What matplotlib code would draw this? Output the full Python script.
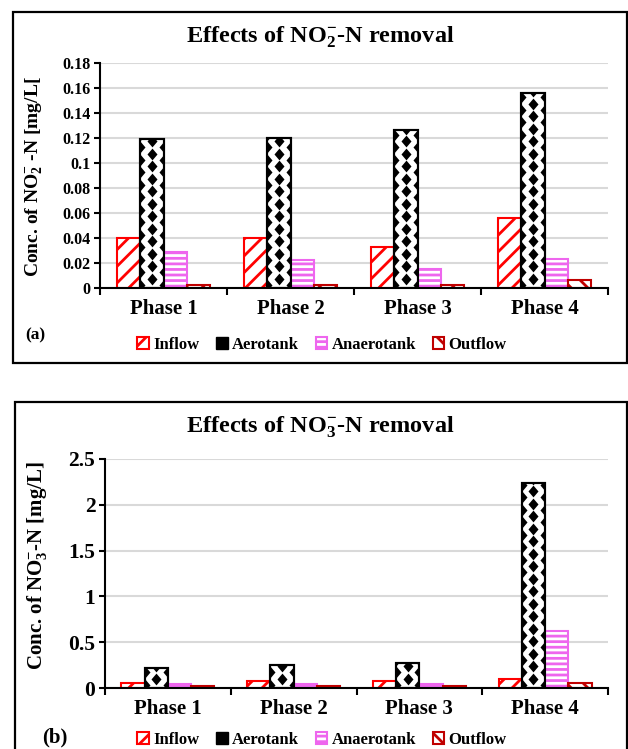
import matplotlib
matplotlib.use('Agg')
import matplotlib.pyplot as plt
from matplotlib.patches import Rectangle, Patch
import numpy as np

plt.rcParams['font.family'] = ['Liberation Serif', 'DejaVu Serif']
plt.rcParams['font.weight'] = 'bold'
plt.rcParams['mathtext.fontset'] = 'custom'
plt.rcParams['mathtext.rm'] = 'Liberation Serif:bold'
plt.rcParams['mathtext.bf'] = 'Liberation Serif:bold'
plt.rcParams['mathtext.it'] = 'Liberation Serif:bold'
plt.rcParams['mathtext.default'] = 'rm'
plt.rcParams['hatch.linewidth'] = 2.0

phases = ['Phase 1', 'Phase 2', 'Phase 3', 'Phase 4']
series = ['Inflow', 'Aerotank', 'Anaerotank', 'Outflow']

# NO2--N (mg/L)
no2_inflow = [0.040, 0.040, 0.033, 0.056]
no2_aerotank = [0.119, 0.120, 0.126, 0.156]
no2_anaerotank = [0.029, 0.022, 0.015, 0.023]
no2_outflow = [0.002, 0.002, 0.002, 0.006]

# NO3--N (mg/L)
no3_inflow = [0.06, 0.08, 0.08, 0.10]
no3_aerotank = [0.22, 0.25, 0.27, 2.24]
no3_anaerotank = [0.045, 0.045, 0.045, 0.62]
no3_outflow = [0.02, 0.02, 0.02, 0.06]

colors = ['#FF0000', 'black', '#EE66EE', '#C00000']
hatches = ['//', None, '---', '\\\\']

W, H = 628, 749
fig = plt.figure(figsize=(W / 100, H / 100), dpi=100)


def draw_panel(rect, data, ymax, step, tick_fs, tickfmt):
    ax = fig.add_axes(rect)
    x = np.arange(len(phases))
    bw = 0.185
    ax_h_px = rect[3] * H
    dy = 12.5 * ymax / ax_h_px
    for i, vals in enumerate(data):
        pos = x + (i - 1.5) * bw
        if series[i] == 'Aerotank':
            bars = ax.bar(pos, vals, bw, facecolor='white', edgecolor='black',
                          linewidth=1.5, zorder=2, label=series[i])
            # diamond pattern inside each aerotank bar
            for b in bars:
                bx = b.get_x() + b.get_width() / 2
                h = b.get_height()
                yc = np.arange(0.75 * dy, h + dy, dy)
                ye = np.arange(0.25 * dy, h + dy, dy)
                xs = np.concatenate([np.full(len(yc), bx),
                                     np.full(len(ye), bx - bw / 2),
                                     np.full(len(ye), bx + bw / 2)])
                ys = np.concatenate([yc, ye, ye])
                sc = ax.scatter(xs, ys, marker=[(0, 1), (0.85, 0), (0, -1), (-0.85, 0)],
                                s=72, c='black', linewidths=0, zorder=3)
                sc.set_clip_path(b)
            ax.bar(pos, vals, bw, fill=False, edgecolor='black', linewidth=1.5, zorder=4)
        else:
            ax.bar(pos, vals, bw, facecolor='white', edgecolor=colors[i],
                   hatch=hatches[i], linewidth=1.5, zorder=2, label=series[i])
    ax.set_xlim(-0.5, len(phases) - 0.5)
    ax.set_ylim(0, ymax)
    ticks = np.arange(0, ymax + step / 2, step)
    ax.set_yticks(ticks)
    ax.set_yticklabels([tickfmt(v) for v in ticks], fontsize=tick_fs, fontweight='bold')
    ax.set_xticks(np.arange(-0.5, len(phases), 1.0))
    ax.set_xticklabels([])
    ax.set_xticks(x, minor=True)
    ax.set_xticklabels(phases, minor=True, fontsize=15, fontweight='bold')
    ax.tick_params(axis='x', which='minor', length=0, pad=8)
    ax.tick_params(axis='x', which='major', length=5, width=1.5, direction='out')
    ax.tick_params(axis='y', length=4, width=1.5, direction='out', pad=3)
    ax.grid(axis='y', color='#d9d9d9', linewidth=1.5)
    ax.set_axisbelow(True)
    for s in ['top', 'right']:
        ax.spines[s].set_visible(False)
    for s in ['left', 'bottom']:
        ax.spines[s].set_linewidth(1.5)
        ax.spines[s].set_color('black')
    return ax


def fmt_a(v):
    if abs(v) < 1e-9:
        return '0'
    return ('%.2f' % v).rstrip('0').rstrip('.')


def fmt_b(v):
    return '%g' % round(v, 2)


# panel (a)
ax1 = draw_panel([100 / W, 1 - 288 / H, 508 / W, 225 / H],
                 [no2_inflow, no2_aerotank, no2_anaerotank, no2_outflow],
                 0.18, 0.02, 11.5, fmt_a)
# panel (b)
ax2 = draw_panel([105 / W, 1 - 688 / H, 503 / W, 229 / H],
                 [no3_inflow, no3_aerotank, no3_anaerotank, no3_outflow],
                 2.5, 0.5, 15.5, fmt_b)

# panel frames
fig.patches.append(Rectangle((13 / W, 1 - 363 / H), 614 / W, 351 / H, fill=False,
                             edgecolor='black', linewidth=1.6, transform=fig.transFigure))
fig.patches.append(Rectangle((15 / W, -0.02), 612 / W, 1 - 402 / H + 0.02, fill=False,
                             edgecolor='black', linewidth=1.6, transform=fig.transFigure))

fig.text(320 / W, 1 - 37 / H, 'Effects of NO$_{2}^{-}$-N removal', ha='center', va='center',
         fontsize=17.5, fontweight='bold')
fig.text(320 / W, 1 - 427 / H, 'Effects of NO$_{3}^{-}$-N removal', ha='center', va='center',
         fontsize=17.5, fontweight='bold')

fig.text(34 / W, 1 - 177 / H, 'Conc. of NO$_{2}^{-}$ -N [mg/L[', rotation=90, ha='center',
         va='center', fontsize=14, fontweight='bold')
fig.text(37 / W, 1 - 566 / H, 'Conc. of NO$_{3}^{-}$-N [mg/L]', rotation=90, ha='center',
         va='center', fontsize=15, fontweight='bold')

fig.text(35 / W, 1 - 335 / H, '(a)', ha='center', va='center', fontsize=12.5, fontweight='bold')
fig.text(55 / W, 1 - 737 / H, '(b)', ha='center', va='center', fontsize=15, fontweight='bold')


def legend_handles():
    hs = []
    for i, name in enumerate(series):
        if name == 'Aerotank':
            hs.append(Patch(facecolor='black', edgecolor='black', label=name))
        else:
            hs.append(Patch(facecolor='white', edgecolor=colors[i], hatch=hatches[i],
                            linewidth=1.5, label=name))
    return hs


for yy in [1 - 345 / H, 1 - 740 / H]:
    fig.legend(handles=legend_handles(), loc='center', bbox_to_anchor=(322 / W, yy),
               ncol=4, frameon=False, handlelength=0.7, handleheight=0.7,
               handletextpad=0.25, columnspacing=1.0, prop={'weight': 'bold', 'size': 12})

fig.savefig('out.png', dpi=100)
